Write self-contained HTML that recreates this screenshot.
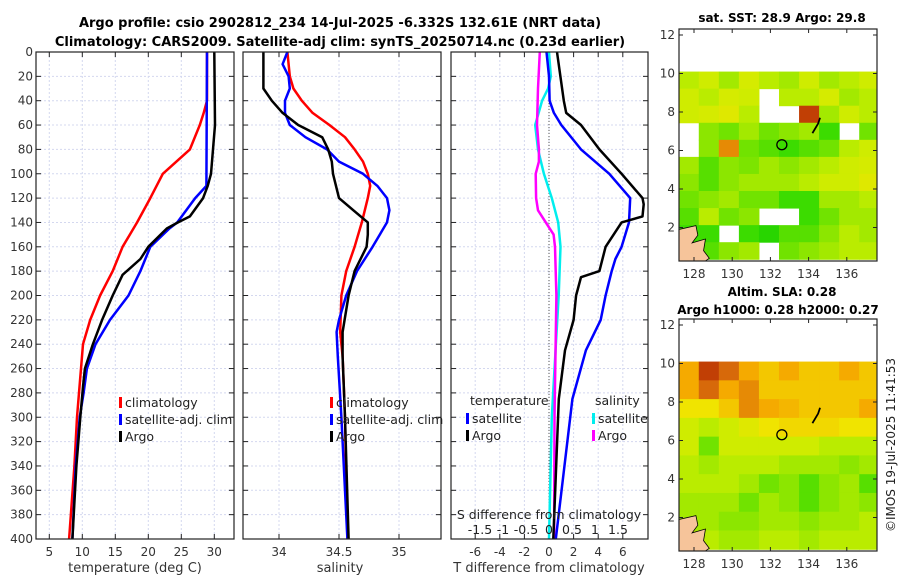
<!DOCTYPE html>
<html><head><meta charset="utf-8">
<style>
body{margin:0;background:#fff;}
svg{display:block;font-family:"DejaVu Sans","Liberation Sans",sans-serif;}
</style></head>
<body>
<svg id="fig" width="900" height="580" viewBox="0 0 900 580">
<text x="340" y="27" font-size="13" font-weight="bold" text-anchor="middle">Argo profile: csio 2902812_234 14-Jul-2025 -6.332S 132.61E (NRT data)</text>
<text x="340" y="46" font-size="13" font-weight="bold" text-anchor="middle">Climatology: CARS2009. Satellite-adj clim: synTS_20250714.nc (0.23d earlier)</text>
<text x="782" y="22" font-size="12" font-weight="bold" text-anchor="middle">sat. SST: 28.9 Argo: 29.8</text>
<text x="782" y="296" font-size="12" font-weight="bold" text-anchor="middle">Altim. SLA: 0.28</text>
<text x="778" y="314" font-size="12" font-weight="bold" text-anchor="middle">Argo h1000: 0.28 h2000: 0.27</text>
<text transform="translate(895,445) rotate(-90)" font-size="12" text-anchor="middle" fill="#222">©IMOS 19-Jul-2025 11:41:53</text>
</svg>
<script>
// ---- data ----
const depthTicks=[0,20,40,60,80,100,120,140,160,180,200,220,240,260,280,300,320,340,360,380,400];
const tTicks=[5,10,15,20,25,30];
const sTicks=[34,34.5,35];
const tdTicks=[-6,-4,-2,0,2,4,6];
const sdTicks=[-1.5,-1,-0.5,0,0.5,1,1.5];
const sdTickLabels=["-1.5","-1","-0.5","0","0.5","1","1.5"];
const lonTicks=[128,130,132,134,136];
const latTicks=[2,4,6,8,10,12];

const tClimDepth=[0,40,50,60,80,100,120,140,160,180,200,220,240,260,280,300,340,400];
const tClimVal=[28.9,28.9,28.4,27.8,26.3,22.2,20.3,18.3,16.1,14.6,12.7,11.2,10.1,9.8,9.5,9.2,8.8,8.0];
const tSatDepth=[0,110,120,140,145,160,180,200,220,240,260,280,300,340,400];
const tSatVal=[28.9,28.8,27.1,24.4,23.2,20.3,18.8,17.0,14.2,12.0,10.7,10.2,9.6,9.0,8.5];
const tArgoDepth=[0,60,100,110,120,135,140,145,160,170,183,200,220,240,260,275,300,340,400];
const tArgoVal=[30.0,30.1,29.5,29.0,28.3,26.3,24.5,22.8,20.0,18.8,16.1,14.6,13.0,11.6,10.4,10.1,9.7,9.1,8.5];

const sClimDepth=[0,20,30,40,50,60,70,80,90,100,110,120,140,160,180,200,230,250,300,400];
const sClimVal=[34.07,34.09,34.12,34.19,34.28,34.42,34.55,34.63,34.70,34.74,34.76,34.74,34.69,34.63,34.56,34.52,34.51,34.53,34.55,34.57];
const sSatDepth=[0,10,20,30,40,50,60,70,80,90,100,110,120,130,140,150,160,180,200,220,230,250,300,400];
const sSatVal=[34.07,34.03,34.08,34.09,34.05,34.05,34.09,34.22,34.40,34.50,34.70,34.82,34.90,34.92,34.90,34.84,34.78,34.65,34.56,34.50,34.48,34.49,34.52,34.57];
const sArgoDepth=[0,30,40,50,60,70,80,90,100,120,130,140,150,160,180,200,230,250,300,400];
const sArgoVal=[33.87,33.87,33.94,34.03,34.16,34.36,34.41,34.44,34.45,34.50,34.62,34.74,34.74,34.73,34.63,34.58,34.53,34.53,34.55,34.58];

const dTArgoDepth=[0,40,50,60,80,100,120,125,135,140,160,180,185,200,220,245,285,400];
const dTArgoVal=[0.65,1.2,1.4,2.6,4.1,5.9,7.6,7.7,7.6,5.9,4.6,4.1,2.6,2.2,2.0,1.3,0.8,0.35];
const dTSatDepth=[0,20,40,50,60,80,100,120,140,160,170,180,200,220,245,285,400];
const dTSatVal=[-0.2,0,0.05,0.4,1.0,2.6,4.9,6.6,6.5,5.9,5.4,5.1,4.6,4.2,3.0,1.9,0.55];
const dSArgoDepth=[0,30,60,80,90,100,120,130,140,150,160,200,300,400];
const dSArgoVal=[-0.2,-0.24,-0.26,-0.22,-0.22,-0.29,-0.28,-0.24,-0.07,0.1,0.13,0.16,0.12,0.11];
const dSSatDepth=[0,20,30,40,60,80,100,120,140,160,200,240,300,400];
const dSSatVal=[0.0,0.04,-0.02,-0.15,-0.3,-0.24,-0.11,0.06,0.2,0.25,0.21,0.15,0.06,0.0];

// SST map (normalized colour value, -1 = no data), rows north->south
const sstGrid=[
[.55,.6,.5,.62,.55,.5,.6,.5,.55,.6],
[.6,.55,.62,.6,-1,.55,.55,.62,.5,.55],
[.6,.62,.65,.55,-1,-1,.95,.5,.6,.55],
[-1,.45,.4,.5,.4,.45,.5,.3,-1,.4],
[-1,.45,.85,.4,.35,.3,.35,.4,.55,.6],
[.5,.35,.45,.42,.5,.45,.5,.55,.6,.62],
[.45,.35,.45,.5,.5,.5,.55,.6,.6,.65],
[.4,.45,.5,.4,.4,.3,.3,.5,.5,.55],
[.35,.55,.4,.45,-1,-1,.3,.4,.5,.5],
[.3,.3,-1,.3,.2,.35,.35,.45,.55,.5],
[.3,.35,.45,.5,-1,.4,.45,.5,.55,.55]];
const slaGrid=[
[.8,.95,.9,.8,.75,.8,.75,.75,.8,.75],
[.8,.9,.8,.85,.75,.75,.75,.75,.75,.75],
[.7,.7,.75,.85,.8,.78,.75,.75,.75,.8],
[.6,.55,.6,.65,.7,.72,.72,.72,.7,.7],
[.6,.4,.6,.6,.6,.6,.6,.55,.55,.55],
[.55,.5,.55,.55,.55,.5,.5,.5,.45,.5],
[.55,.55,.55,.5,.4,.45,.35,.45,.5,.35],
[.5,.5,.5,.4,.5,.45,.35,.45,.5,.45],
[.5,.5,.45,.45,.5,.5,.45,.5,.5,.55],
[.55,.55,.5,.5,.55,.55,.5,.55,.55,.55]];
const floatLon=[132.6];
const floatLat=[6.3];

// ---- drawing ----
const svg=document.getElementById('fig');
const NS='http://www.w3.org/2000/svg';
function mk(tag,at,parent){const e=document.createElementNS(NS,tag);for(const k in at)e.setAttribute(k,at[k]);(parent||svg).appendChild(e);return e;}
const Y0=52,Y1=539;
const yD=d=>Y0+d*(Y1-Y0)/400;

function panel(name,x0,x1,xs,ticks,labels,showDepth){
  const g=mk('g',{});
  
  
  mk('rect',{x:x0,y:Y0,width:x1-x0,height:Y1-Y0,fill:'#fff'},g);
  ticks.forEach((t,i)=>{const x=xs(t);
    mk('line',{x1:x,x2:x,y1:Y0,y2:Y1,stroke:'#d4d8ef','stroke-width':1,'stroke-dasharray':'2,2'},g);
    mk('line',{x1:x,x2:x,y1:Y1,y2:Y1-5,stroke:'#222'},g);mk('line',{x1:x,x2:x,y1:Y0,y2:Y0+5,stroke:'#222'},g);
    if(labels){const tx=mk('text',{x:x,y:Y1+17,'font-size':12,'text-anchor':'middle',fill:'#333'},g);tx.textContent=labels[i];}
  });
  depthTicks.forEach(d=>{const y=yD(d);
    mk('line',{x1:x0,x2:x1,y1:y,y2:y,stroke:'#d4d8ef','stroke-width':1,'stroke-dasharray':'2,2'},g);
    mk('line',{x1:x0,x2:x0+5,y1:y,y2:y,stroke:'#222'},g);mk('line',{x1:x1,x2:x1-5,y1:y,y2:y,stroke:'#222'},g);
    if(showDepth){const tx=mk('text',{x:x0-3,y:y+4,'font-size':12,'text-anchor':'end',fill:'#333'},g);tx.textContent=d;}
  });
  return g;
}
function line(g,xs,depths,vals,color,name){
  const p=depths.map((d,i)=>xs(vals[i]).toFixed(1)+','+yD(d).toFixed(1)).join(' ');
  const e=mk('polyline',{points:p,fill:'none',stroke:color,'stroke-width':2.5,'stroke-linejoin':'round'},g);
  
  
}
function frame(g,x0,x1){mk('rect',{x:x0,y:Y0,width:x1-x0,height:Y1-Y0,fill:'none',stroke:'#222','stroke-width':1.2},g);}
function legendEntry(g,x,y,color,label,name){
  mk('rect',{x:x,y:y-9,width:3,height:11,fill:color},g);
  const t=mk('text',{x:x+6,y:y+1,'font-size':12.5,fill:'#222'},g);t.textContent=label;
  
  
}

// Panel 1 temperature
const xT=t=>49.3+(t-5)*6.6;
const g1=panel('temperature-panel',36,234,xT,tTicks,tTicks.map(String),true);
line(g1,xT,tClimDepth,tClimVal,'#ff0000','temp-climatology-line');
line(g1,xT,tSatDepth,tSatVal,'#0000ff','temp-satellite-line');
line(g1,xT,tArgoDepth,tArgoVal,'#000000','temp-argo-line');
legendEntry(g1,119,406,'#f00','climatology','legend-climatology');
legendEntry(g1,119,423,'#00f','satellite-adj. clim','legend-satellite');
legendEntry(g1,119,440,'#000','Argo','legend-argo');
frame(g1,36,234);
let lab=mk('text',{x:135,y:572,'font-size':13,'text-anchor':'middle',fill:'#333'});lab.textContent='temperature (deg C)';


// Panel 2 salinity
const xS=s=>279+(s-34)*120;
const g2=panel('salinity-panel',243,441,xS,sTicks,['34','34.5','35'],false);
line(g2,xS,sClimDepth,sClimVal,'#ff0000','sal-climatology-line');
line(g2,xS,sSatDepth,sSatVal,'#0000ff','sal-satellite-line');
line(g2,xS,sArgoDepth,sArgoVal,'#000000','sal-argo-line');
legendEntry(g2,330,406,'#f00','climatology','legend-climatology-2');
legendEntry(g2,330,423,'#00f','satellite-adj. clim','legend-satellite-2');
legendEntry(g2,330,440,'#000','Argo','legend-argo-2');
frame(g2,243,441);
lab=mk('text',{x:340,y:572,'font-size':13,'text-anchor':'middle',fill:'#333'});lab.textContent='salinity';


// Panel 3 differences
const xTD=d=>549+d*12.3;
const xSD=d=>549+d*46;
const g3=panel('difference-panel',451,648,xTD,tdTicks,tdTicks.map(String),false);
mk('line',{x1:xTD(0),x2:xTD(0),y1:Y0,y2:Y1,stroke:'#555','stroke-dasharray':'1,2'},g3);
line(g3,xSD,dSSatDepth,dSSatVal,'#00eeee','sdiff-satellite-line');
line(g3,xSD,dSArgoDepth,dSArgoVal,'#ff00ff','sdiff-argo-line');
line(g3,xTD,dTSatDepth,dTSatVal,'#0000ff','tdiff-satellite-line');
line(g3,xTD,dTArgoDepth,dTArgoVal,'#000000','tdiff-argo-line');
let tt=mk('text',{x:470,y:405,'font-size':12.5,fill:'#222'},g3);tt.textContent='temperature';
tt=mk('text',{x:595,y:405,'font-size':12.5,fill:'#222'},g3);tt.textContent='salinity';
legendEntry(g3,466,422,'#00f','satellite','legend-tdiff-satellite');
legendEntry(g3,466,439,'#000','Argo','legend-tdiff-argo');
legendEntry(g3,592,422,'#0ee','satellite','legend-sdiff-satellite');
legendEntry(g3,592,439,'#f0f','Argo','legend-sdiff-argo');
tt=mk('text',{x:549,y:519,'font-size':12.5,'text-anchor':'middle',fill:'#222'},g3);tt.textContent='S difference from climatology';
sdTicks.forEach((s,i)=>{const t=mk('text',{x:xSD(s),y:534,'font-size':12.5,'text-anchor':'middle',fill:'#222'},g3);t.textContent=sdTickLabels[i];});
frame(g3,451,648);
lab=mk('text',{x:549,y:572,'font-size':13,'text-anchor':'middle',fill:'#333'});lab.textContent='T difference from climatology';


// Maps
function cmap(v){
  const st=[[0,[0,200,0]],[0.3,[60,220,0]],[0.45,[140,230,0]],[0.58,[200,238,0]],[0.7,[240,228,0]],[0.8,[245,170,0]],[0.9,[215,105,10]],[1,[170,20,0]]];
  for(let i=1;i<st.length;i++){if(v<=st[i][0]){const a=st[i-1],b=st[i],f=(v-a[0])/(b[0]-a[0]);
    return 'rgb('+a[1].map((c,j)=>Math.round(c+(b[1][j]-c)*f)).join(',')+')';}}
  return 'rgb(170,20,0)';
}
function map(name,top,grid){
  const x0=679,x1=877,y0=top,y1=top+232;
  const lon=l=>694+(l-128)*19.1;
  const lat=a=>(y0+6)+(12-a)*19.25;
  const g=mk('g',{});
  
  
  const nr=grid.length,nc=grid[0].length;
  const lonA=127.2,lonB=137.7,latA=10.1,latB=0.35;
  grid.forEach((row,r)=>row.forEach((v,c)=>{
    if(v<0)return;
    const xa=Math.max(x0,lon(lonA+(lonB-lonA)*c/nc)),xb=lon(lonA+(lonB-lonA)*(c+1)/nc);
    const ya=lat(latA-(latA-latB)*r/nr),yb=lat(latA-(latA-latB)*(r+1)/nr);
    const cell=mk('rect',{x:xa,y:ya,width:Math.min(xb,x1)-xa+0.5,height:yb-ya+0.5,fill:cmap(v)},g);
    
    
  }));
  mk('path',{d:`M${x0} ${y1} L${x0} ${lat(1.9)} L${lon(128.1)} ${lat(2.1)} L${lon(128.2)} ${lat(1.6)} L${lon(127.9)} ${lat(1.2)} L${lon(128.6)} ${lat(1.4)} L${lon(128.5)} ${lat(0.8)} L${lon(128.8)} ${lat(0.4)} L${lon(128.6)} ${y1} Z`,fill:'#f6c49a',stroke:'#000','stroke-width':0.8},g);
  mk('path',{d:`M${lon(134.2)} ${lat(6.9)} L${lon(134.5)} ${lat(7.4)} L${lon(134.6)} ${lat(7.7)}`,stroke:'#000','stroke-width':1.8,fill:'none'},g);
  floatLon.forEach((l,i)=>{const c=mk('circle',{cx:lon(l),cy:lat(floatLat[i]),r:5,fill:'none',stroke:'#000','stroke-width':1.3},g);
    });
  mk('rect',{x:x0,y:y0,width:x1-x0,height:y1-y0,fill:'none',stroke:'#222','stroke-width':1.2},g);
  lonTicks.forEach(l=>{const x=lon(l);mk('line',{x1:x,x2:x,y1:y1,y2:y1-4,stroke:'#222'},g);mk('line',{x1:x,x2:x,y1:y0,y2:y0+4,stroke:'#222'},g);
    const t=mk('text',{x:x,y:y1+17,'font-size':12,'text-anchor':'middle',fill:'#333'},g);t.textContent=l;});
  latTicks.forEach(a=>{const y=lat(a);mk('line',{x1:x0,x2:x0+4,y1:y,y2:y,stroke:'#222'},g);mk('line',{x1:x1,x2:x1-4,y1:y,y2:y,stroke:'#222'},g);
    const t=mk('text',{x:x0-4,y:y+4,'font-size':12,'text-anchor':'end',fill:'#333'},g);t.textContent=a;});
}
map('sst-map',29,sstGrid);
map('sla-map',319,slaGrid);
</script>
</body></html>
